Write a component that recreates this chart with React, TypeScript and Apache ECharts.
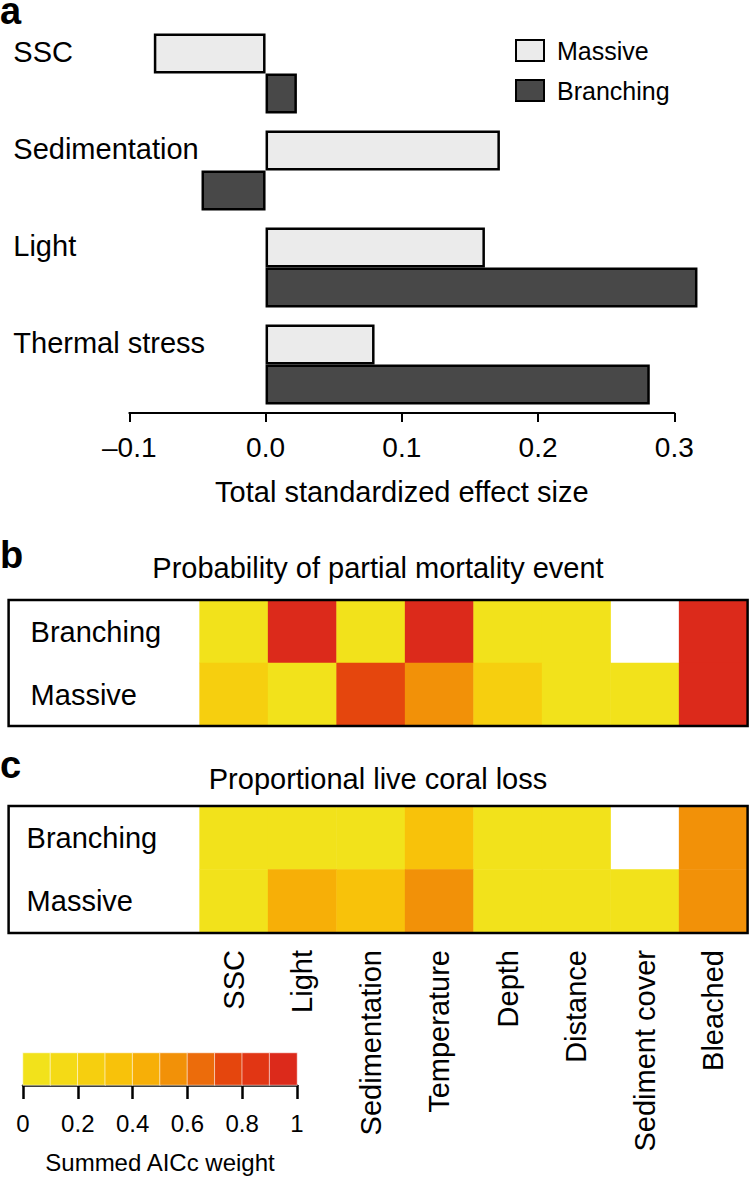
import React, { useEffect, useRef } from "react";
import * as echarts from "echarts";

// ---------- Panel a: total standardized effect size ----------
const effectCategories = ["SSC", "Sedimentation", "Light", "Thermal stress"];
const massiveEffect = [-0.082, 0.172, 0.161, 0.08];
const branchingEffect = [0.023, -0.047, 0.317, 0.282];

// ---------- Panels b and c: summed AICc weights ----------
const predictors = [
  "SSC",
  "Light",
  "Sedimentation",
  "Temperature",
  "Depth",
  "Distance",
  "Sediment cover",
  "Bleached",
];
const growthForms = ["Branching", "Massive"];
// null = predictor not included in the model (blank cell)
const mortalityBranching = [0.07, 0.98, 0.08, 0.97, 0.06, 0.05, null, 0.96];
const mortalityMassive = [0.25, 0.09, 0.74, 0.55, 0.24, 0.07, 0.06, 0.95];
const lossBranching = [0.05, 0.06, 0.07, 0.33, 0.05, 0.06, null, 0.56];
const lossMassive = [0.06, 0.44, 0.36, 0.57, 0.05, 0.04, 0.06, 0.58];

// ---------- Colour key ----------
const weightBinLabels = ["b1", "b2", "b3", "b4", "b5", "b6", "b7", "b8", "b9", "b10"];
const weightBinValues = [0.05, 0.15, 0.25, 0.35, 0.45, 0.55, 0.65, 0.75, 0.85, 0.95];
const weightPalette = [
  "#F2E21B",
  "#F4DA16",
  "#F6CF0F",
  "#F8C20A",
  "#F7AF07",
  "#F29108",
  "#EC6C0B",
  "#E5460D",
  "#E13614",
  "#DC2A1B",
];

const FONT = "'Liberation Sans', Arial, Helvetica, sans-serif";

function toCells(branching: (number | null)[], massive: (number | null)[]) {
  const cells: [number, number, number][] = [];
  const rows = [branching, massive];
  rows.forEach((row, r) => {
    row.forEach((v, c) => {
      if (v !== null) cells.push([c, r, v]);
    });
  });
  return cells;
}

export default function App() {
  const ref = useRef<HTMLDivElement>(null);

  useEffect(() => {
    if (!ref.current) return;
    const chart = echarts.init(ref.current, undefined, { renderer: "svg" });

    const black = "#000";
    const frameGrid = (top: number, height: number) => ({
      left: 8.6,
      top,
      width: 739,
      height,
      show: true,
      borderColor: black,
      borderWidth: 2.5,
      backgroundColor: "transparent",
      z: 10,
    });
    const panelLetter = (text: string, top: number) => ({
      text,
      left: 0,
      top,
      padding: 0,
      textStyle: { fontSize: 38, fontWeight: "bold", color: black, fontFamily: FONT, lineHeight: 22 },
    });

    const option: any = {
      animation: false,
      textStyle: { fontFamily: FONT, color: black },
      title: [
        panelLetter("a", 0),
        panelLetter("b", 544),
        panelLetter("c", 754),
        {
          text: "Probability of partial mortality event",
          left: 378,
          top: 553,
          padding: 0,
          textAlign: "center",
          textStyle: { fontSize: 29, fontWeight: "normal", color: black, fontFamily: FONT },
        },
        {
          text: "Proportional live coral loss",
          left: 378,
          top: 764,
          padding: 0,
          textAlign: "center",
          textStyle: { fontSize: 29, fontWeight: "normal", color: black, fontFamily: FONT },
        },
      ],
      legend: {
        data: ["Massive", "Branching"],
        orient: "vertical",
        left: 515,
        top: 38,
        padding: 0,
        itemWidth: 28,
        itemHeight: 21,
        itemGap: 15,
        icon: "rect",
        textStyle: { fontSize: 25, color: black, fontFamily: FONT, padding: [0, 0, 0, 8] },
      },
      grid: [
        { left: 129.3, top: 25, width: 545, height: 388 },
        frameGrid(600, 126),
        { left: 199.6, top: 600, width: 548, height: 126 },
        frameGrid(806, 127),
        { left: 199.6, top: 806, width: 548, height: 127 },
        { left: 23, top: 1053, width: 274, height: 32 },
      ],
      xAxis: [
        {
          gridIndex: 0,
          type: "value",
          min: -0.1,
          max: 0.3,
          interval: 0.1,
          splitLine: { show: false },
          axisLine: { show: true, lineStyle: { color: black, width: 2 } },
          axisTick: { show: true, length: 9, lineStyle: { color: black, width: 2 } },
          axisLabel: {
            fontSize: 28,
            color: black,
            margin: 20,
            formatter: (v: number) => (v < 0 ? "\u2013" : "") + Math.abs(v).toFixed(1),
          },
          name: "Total standardized effect size",
          nameLocation: "middle",
          nameGap: 64,
          nameTextStyle: { fontSize: 29, color: black },
        },
        { gridIndex: 1, type: "value", min: 0, max: 1, show: false },
        { gridIndex: 2, type: "category", data: predictors, show: false },
        { gridIndex: 3, type: "value", min: 0, max: 1, show: false },
        {
          gridIndex: 4,
          type: "category",
          data: predictors,
          axisLine: { show: false },
          axisTick: { show: false },
          axisLabel: { rotate: 90, interval: 0, fontSize: 29, color: black, margin: 17 },
        },
        { gridIndex: 5, type: "category", data: weightBinLabels, show: false },
        {
          gridIndex: 5,
          type: "value",
          min: 0,
          max: 1,
          interval: 0.2,
          position: "bottom",
          splitLine: { show: false },
          axisLine: { show: true, lineStyle: { color: black, width: 2.5 } },
          axisTick: { show: true, length: 14, lineStyle: { color: black, width: 2.5 } },
          axisLabel: { fontSize: 24, color: black, margin: 26 },
          name: "Summed AICc weight",
          nameLocation: "middle",
          nameGap: 65,
          nameTextStyle: { fontSize: 24, color: black },
        },
      ],
      yAxis: [
        {
          gridIndex: 0,
          type: "category",
          data: effectCategories,
          inverse: true,
          axisLine: { show: false },
          axisTick: { show: false },
          axisLabel: {
            interval: 0,
            align: "left",
            verticalAlign: "bottom",
            lineHeight: 44,
            margin: 116,
            fontSize: 29,
            color: black,
          },
        },
        { gridIndex: 1, type: "value", min: 0, max: 1, show: false },
        {
          gridIndex: 2,
          type: "category",
          data: growthForms,
          inverse: true,
          axisLine: { show: false },
          axisTick: { show: false },
          axisLabel: { interval: 0, align: "left", margin: 169, fontSize: 29, color: black },
        },
        { gridIndex: 3, type: "value", min: 0, max: 1, show: false },
        {
          gridIndex: 4,
          type: "category",
          data: growthForms,
          inverse: true,
          axisLine: { show: false },
          axisTick: { show: false },
          axisLabel: { interval: 0, align: "left", margin: 173, fontSize: 29, color: black },
        },
        { gridIndex: 5, type: "category", data: ["key"], show: false },
      ],
      visualMap: {
        type: "piecewise",
        show: false,
        dimension: 2,
        seriesIndex: [2, 3, 4],
        pieces: weightPalette.map((c, i) => ({ gte: i / 10, lt: (i + 1) / 10 + (i === 9 ? 0.001 : 0), color: c })),
      },
      series: [
        {
          name: "Massive",
          type: "bar",
          xAxisIndex: 0,
          yAxisIndex: 0,
          data: massiveEffect,
          barWidth: 40,
          barGap: "0%",
          clip: false,
          itemStyle: { color: "#EBEBEB", borderColor: black, borderWidth: 2.5 },
        },
        {
          name: "Branching",
          type: "bar",
          xAxisIndex: 0,
          yAxisIndex: 0,
          data: branchingEffect,
          barWidth: 40,
          barGap: "0%",
          clip: false,
          itemStyle: { color: "#484848", borderColor: black, borderWidth: 2.5 },
        },
        {
          type: "heatmap",
          xAxisIndex: 2,
          yAxisIndex: 2,
          data: toCells(mortalityBranching, mortalityMassive),
          itemStyle: { borderWidth: 0 },
        },
        {
          type: "heatmap",
          xAxisIndex: 4,
          yAxisIndex: 4,
          data: toCells(lossBranching, lossMassive),
          itemStyle: { borderWidth: 0 },
        },
        {
          type: "heatmap",
          xAxisIndex: 5,
          yAxisIndex: 5,
          data: weightBinValues.map((v, i) => [i, 0, v]),
          itemStyle: { borderColor: "rgba(255,255,255,0.75)", borderWidth: 0.8 },
        },
      ],
    };

    chart.setOption(option);
    return () => chart.dispose();
  }, []);

  return (
    <div
      ref={ref}
      style={{ position: "absolute", left: 0, top: 0, width: 749, height: 1177, background: "#fff" }}
    />
  );
}
